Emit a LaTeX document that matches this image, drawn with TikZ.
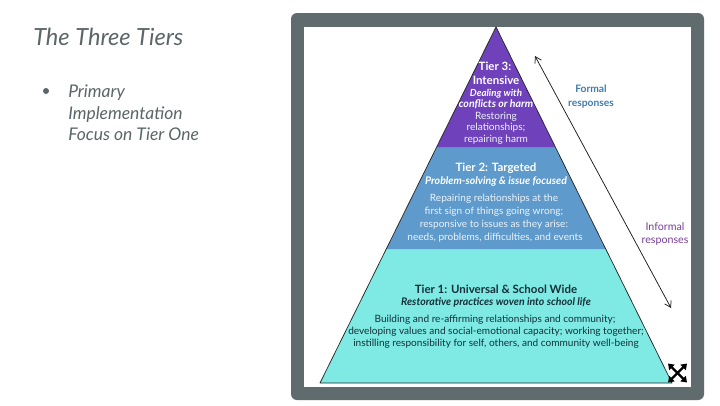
\documentclass[tikz,border=0pt]{standalone}
\usepackage{fontspec}
\setmainfont{Lato}
\usetikzlibrary{arrows.meta}
\definecolor{frameg}{HTML}{5F6B6D}
\definecolor{slidetxt}{HTML}{5C6668}
\definecolor{tthree}{HTML}{6F42BC}
\definecolor{ttwo}{HTML}{5E9ACB}
\definecolor{tone}{HTML}{7EEAE3}
\definecolor{formalc}{HTML}{3F7DAE}
\definecolor{informalc}{HTML}{7A3F98}
\definecolor{darktxt}{HTML}{15303A}
\tikzset{
  x=0.75pt,y=-0.75pt,
  slidetitle/.style={anchor=base west,inner sep=0pt,text=slidetxt,font=\itshape\fontsize{17.7}{20}\selectfont},
  slidebody/.style={anchor=base west,inner sep=0pt,text=slidetxt,font=\itshape\fontsize{13.1}{15}\selectfont},
  lab/.style={inner sep=0pt,anchor=base,yshift=-3.2pt},
  whead/.style={lab,text=white,font=\bfseries\fontsize{8.6}{10}\selectfont},
  wsub/.style={lab,text=white,font=\bfseries\itshape\fontsize{7.9}{9}\selectfont},
  wtxt/.style={lab,text=white!88!ttwo,font=\fontsize{7.55}{9}\selectfont},
  dhead/.style={lab,text=darktxt,font=\bfseries\fontsize{8.6}{10}\selectfont},
  dsub/.style={lab,text=darktxt,font=\bfseries\itshape\fontsize{7.9}{9}\selectfont},
  dtxt/.style={lab,text=darktxt,font=\fontsize{7.55}{9}\selectfont},
  sideb/.style={lab,font=\bfseries\fontsize{7.7}{9}\selectfont},
  sider/.style={lab,font=\fontsize{8}{9}\selectfont},
  tieredge/.style={draw=black!85,line width=0.55pt,line join=round},
  spanarrow/.style={draw=black!90,line width=0.55pt,{Straight Barb[length=4.5pt,width=5.5pt]}-{Straight Barb[length=4.5pt,width=5.5pt]}},
  expandarrow/.style={draw=black,line width=1.7pt,-{Triangle[length=4.2pt,width=5.6pt]}}
}
\begin{document}
\begin{tikzpicture}
\useasboundingbox (0,0) rectangle (720,405);
\fill[white] (0,0) rectangle (720,405);
% frame
\fill[frameg,rounded corners=4.5pt] (291,13) rectangle (704,400);
\fill[white] (304,27) rectangle (691,387);
% tiers
\fill[tone] (320,383) -- (386.3,249) -- (605.7,249) -- (672,383) -- cycle;
\fill[ttwo] (386.3,249) -- (436.7,147) -- (555.3,147) -- (605.7,249) -- cycle;
\fill[tthree] (436.7,147) -- (496,27) -- (555.3,147) -- cycle;
\draw[tieredge] (320,383) -- (496,27) -- (672,383) -- cycle;
% tier 3
\node[whead] (t3a) at (495,66) {Tier 3:};
\node[whead] (t3b) at (496,80) {Intensive};
\node[wsub,font=\bfseries\itshape\fontsize{7.3}{9}\selectfont] (t3c) at (496,92) {Dealing with};
\node[wsub] (t3d) at (496,103) {conflicts or harm};
\node[wtxt] (t3e) at (496,115) {Restoring};
\node[wtxt] (t3f) at (496,126) {relationships;};
\node[wtxt] (t3g) at (496,138) {repairing harm};
% tier 2
\node[whead] (t2a) at (496,167) {Tier 2: Targeted};
\node[wsub] (t2b) at (496,180) {Problem-solving \& issue focused};
\node[wtxt] (t2c) at (494,197) {Repairing relationships at the};
\node[wtxt] (t2d) at (494,210) {first sign of things going wrong;};
\node[wtxt] (t2e) at (494,223) {responsive to issues as they arise:};
\node[wtxt] (t2f) at (495,236) {needs, problems, difficulties, and events};
% tier 1
\node[dhead] (t1a) at (496,289) {Tier 1: Universal \& School Wide};
\node[dsub] (t1b) at (496,301) {Restorative practices woven into school life};
\node[dtxt] (t1c) at (495,318) {Building and re-affirming relationships and community;};
\node[dtxt] (t1d) at (496,330) {developing values and social-emotional capacity; working together;};
\node[dtxt] (t1e) at (496,342) {instilling responsibility for self, others, and community well-being};
% span arrow
\coordinate (spantop) at (535,56);
\coordinate (spanbot) at (671,308);
\draw[spanarrow] (spantop) -- (spanbot);
\node[sideb,text=formalc] (fa) at (591,88) {Formal};
\node[sideb,text=formalc] (fb) at (591,102) {responses};
\node[sider,text=informalc] (ia) at (665,226) {Informal};
\node[sider,text=informalc] (ib) at (665,239) {responses};
% expand icon
\coordinate (ec) at (677.5,373);
\draw[expandarrow] (ec) -- ++(-9.5,-9.5);
\draw[expandarrow] (ec) -- ++(9.5,-9.5);
\draw[expandarrow] (ec) -- ++(-9.5,9.5);
\draw[expandarrow] (ec) -- ++(9.5,9.5);
% left text
\node[slidetitle] (title) at (33,45.5) {The Three Tiers};
\fill[slidetxt] (46,91) circle (3);
\node[slidebody] (b1) at (68,97) {Primary};
\node[slidebody] (b2) at (68,119) {Implementation};
\node[slidebody] (b3) at (68,140) {Focus on Tier One};
\end{tikzpicture}
\end{document}
